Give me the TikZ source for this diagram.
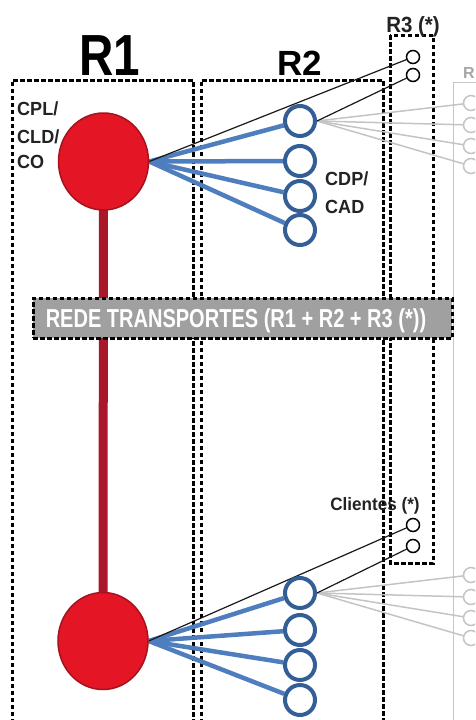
\documentclass[tikz,border=0pt]{standalone}
\usepackage{fontspec}
\usepackage{graphicx}
\setmainfont{Liberation Sans}
\usetikzlibrary{shapes.geometric,backgrounds}
\definecolor{ballred}{RGB}{228,22,38}
\definecolor{balledge}{RGB}{165,18,30}
\definecolor{barred}{RGB}{168,24,42}
\definecolor{ringblue}{RGB}{52,94,150}
\definecolor{lineblue}{RGB}{78,126,190}
\definecolor{bannergray}{RGB}{160,160,160}
\definecolor{lightline}{RGB}{196,196,196}
\definecolor{labtext}{RGB}{35,35,35}
\tikzset{
  dbox/.style={draw=black, line width=3pt, dash pattern=on 4.5pt off 2.5pt},
  faintbox/.style={draw=black!22, line width=1pt},
  redball/.style={ellipse, fill=ballred, draw=balledge, line width=1.5pt, minimum width=90pt, minimum height=97pt, inner sep=0pt},
  redbar/.style={draw=barred, line width=9pt},
  ring/.style={circle, draw=ringblue, line width=4pt, fill=white, minimum size=30pt, inner sep=0pt},
  smallring/.style={circle, draw=black, line width=1.5pt, fill=white, minimum size=13pt, inner sep=0pt},
  grayring/.style={circle, draw=lightline, line width=1.5pt, fill=white, minimum size=15pt, inner sep=0pt},
  blueline/.style={draw=lineblue, line width=4.5pt},
  blackline/.style={draw=black!90, line width=1.2pt},
  grayline/.style={draw=lightline, line width=1.5pt},
  banner/.style={draw=black, line width=3pt, dash pattern=on 4.5pt off 2.5pt, fill=bannergray, minimum width=419pt, minimum height=40pt, inner sep=0pt},
  lab/.style={inner sep=0pt, text=labtext, font=\fontsize{19}{19}\selectfont\bfseries},
}
\begin{document}
\begin{tikzpicture}[x=1pt,y=-1pt]
\useasboundingbox (0,0) rectangle (475,720);
\clip (0,0) rectangle (475,720);

% headings
\node[inner sep=0pt, anchor=base, font=\fontsize{58}{58}\selectfont\bfseries] (r1) at (110,75) {\scalebox{0.82}[1]{R1}};
\node[inner sep=0pt, anchor=base, font=\fontsize{35}{35}\selectfont\bfseries] (r2) at (300,75) {R2};
\node[inner sep=0pt, anchor=base, text=labtext, font=\fontsize{22}{22}\selectfont\bfseries] (r3) at (413,32) {\scalebox{0.93}[1]{R3 (*)}};
\node[inner sep=0pt, anchor=base west, text=black!35, font=\fontsize{16}{16}\selectfont\bfseries] (r4) at (463,78) {R};

% banner
\node[banner] (ban) at (242.5,318) {};
\node[inner sep=0pt, anchor=base, text=white, font=\fontsize{26}{26}\selectfont\bfseries] (bantext) at (236,327.5) {\scalebox{0.77}[1]{REDE TRANSPORTES (R1 + R2 + R3 (*))}};

% red balls
\node[redball] (rA) at (103.5,161.5) {};
\node[redball] (rB) at (103,641) {};

% blue rings, top group
\node[ring] (bA1) at (300,121) {};
\node[ring] (bA2) at (300,161) {};
\node[ring] (bA3) at (300,196) {};
\node[ring] (bA4) at (300,230) {};
% blue rings, bottom group
\node[ring] (bB1) at (300,593) {};
\node[ring] (bB2) at (300,630) {};
\node[ring] (bB3) at (300,665) {};
\node[ring] (bB4) at (300,700) {};

% R3 small circles
\node[smallring] (cA1) at (413,57) {};
\node[smallring] (cA2) at (413,75) {};
\node[smallring] (cB1) at (413,525) {};
\node[smallring] (cB2) at (413,546) {};

% grey circles at the right edge
\node[grayring] (gA1) at (471,103) {};
\node[grayring] (gA2) at (471,125) {};
\node[grayring] (gA3) at (471,146) {};
\node[grayring] (gA4) at (471,166) {};
\node[grayring] (gB1) at (471,575) {};
\node[grayring] (gB2) at (471,597) {};
\node[grayring] (gB3) at (471,618) {};
\node[grayring] (gB4) at (471,638) {};

% labels
\node[lab, anchor=base west] (cpl) at (17,115) {\scalebox{0.95}[1]{CPL/}};
\node[lab, anchor=base west] (cld) at (17,143) {\scalebox{0.95}[1]{CLD/}};
\node[lab, anchor=base west] (co) at (17,168) {\scalebox{0.95}[1]{CO}};
\node[lab, anchor=base west] (cdp) at (325,185) {\scalebox{0.95}[1]{CDP/}};
\node[lab, anchor=base west] (cad) at (325,213) {\scalebox{0.95}[1]{CAD}};
\node[lab, anchor=base, font=\fontsize{18}{18}\selectfont\bfseries] (cli) at (375,510) {\scalebox{0.95}[1]{Clientes (*)}};

\begin{scope}[on background layer]
  % region boxes
  \draw[dbox] (12,730) -- (12,80) -- (193,80) -- (193,730);
  \draw[dbox] (201,730) -- (201,80) -- (383,80) -- (383,730);
  \draw[dbox] (390,35) rectangle (433,563);
  \draw[faintbox] (453,730) -- (453,82) -- (480,82);
  % red trunk
  \draw[redbar] (rA.center) -- (rB.center);
  % grey lines
  \foreach \i in {1,2,3,4} {
    \draw[grayline] (bA1.east) -- (gA\i);
    \draw[grayline] (bB1.east) -- (gB\i);
  }
  % blue lines
  \foreach \i in {1,2,3,4} {
    \draw[blueline] (rA.east) -- (bA\i);
    \draw[blueline] (rB.east) -- (bB\i);
  }
  % black lines
  \draw[blackline] (rA.east) -- (cA1);
  \draw[blackline] (bA1.east) -- (cA2);
  \draw[blackline] (rB.east) -- (cB1);
  \draw[blackline] (bB1.east) -- (cB2);
\end{scope}
\end{tikzpicture}
\end{document}
